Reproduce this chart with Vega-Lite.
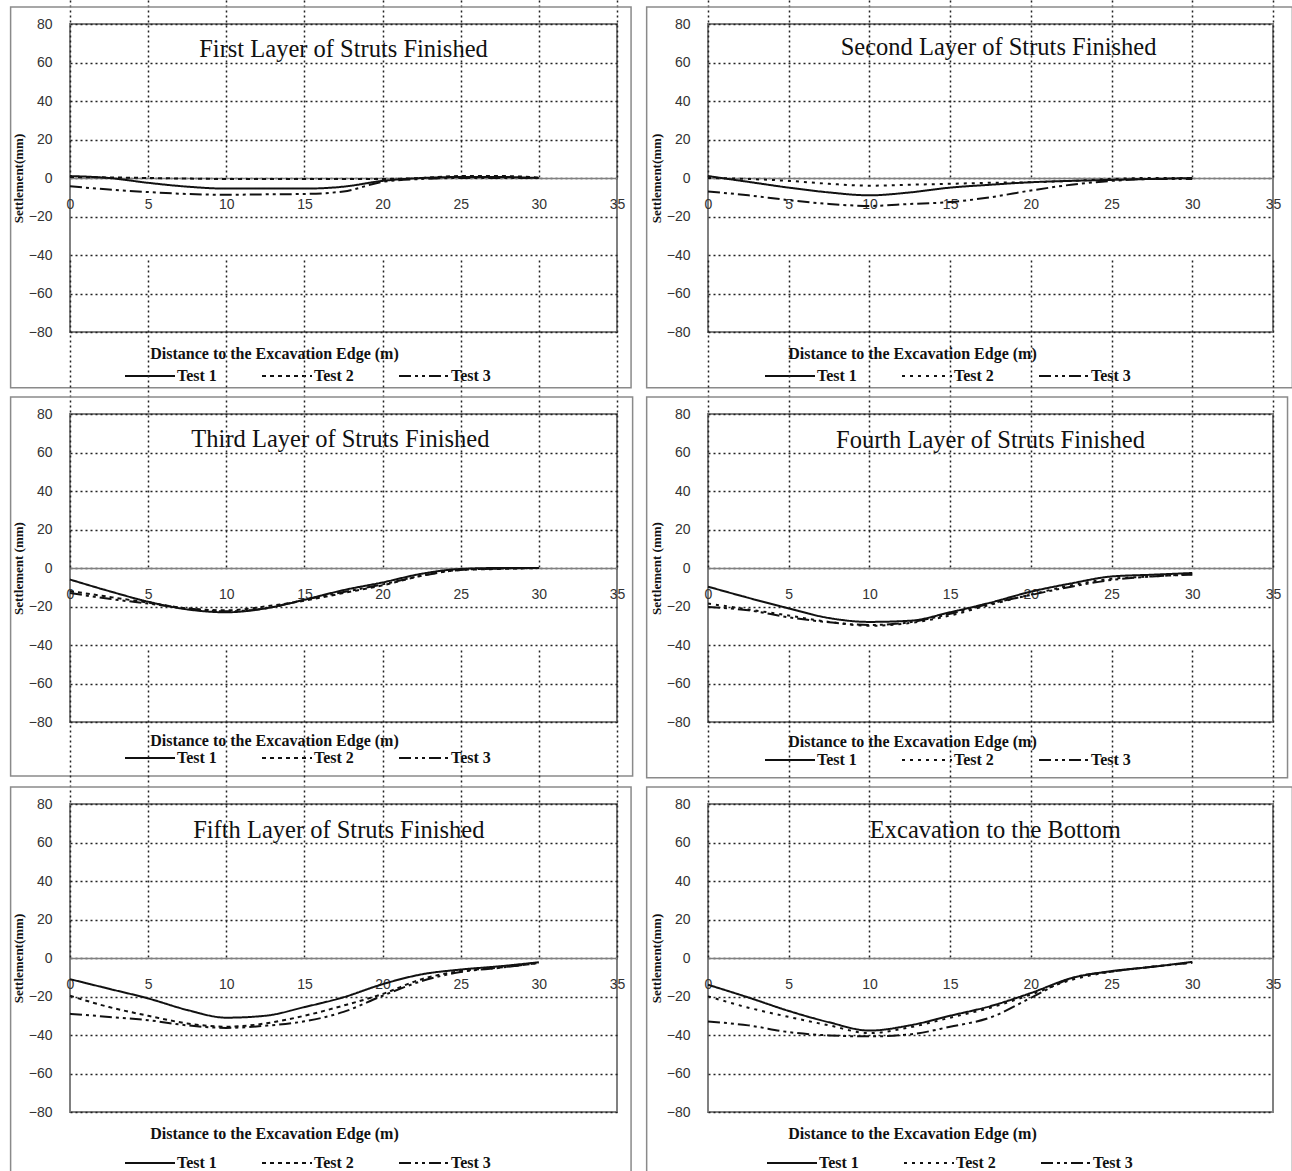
{
  "$schema": "https://vega.github.io/schema/vega-lite/v6.json",
  "padding": {"left": 8, "top": 5, "right": 0, "bottom": 0},
  "background": "white",
  "datasets": {
    "p1": [
      {"x": 0, "Test 1": 1, "Test 2": 0.5, "Test 3": -4.3},
      {"x": 2.5, "Test 1": 0, "Test 2": 0.3, "Test 3": -6},
      {"x": 5, "Test 1": -2.5, "Test 2": 0, "Test 3": -7.3},
      {"x": 7.5, "Test 1": -4.5, "Test 2": -0.3, "Test 3": -8.3},
      {"x": 10, "Test 1": -5.5, "Test 2": -0.5, "Test 3": -8.7},
      {"x": 12.5, "Test 1": -5.5, "Test 2": -0.5, "Test 3": -8.5},
      {"x": 15, "Test 1": -5.5, "Test 2": -0.5, "Test 3": -8.3},
      {"x": 17.5, "Test 1": -4.5, "Test 2": -0.5, "Test 3": -7},
      {"x": 20, "Test 1": -1.5, "Test 2": -0.5, "Test 3": -2},
      {"x": 22.5, "Test 1": 0, "Test 2": 0, "Test 3": -0.5},
      {"x": 25, "Test 1": 0.5, "Test 2": 1, "Test 3": 0},
      {"x": 27.5, "Test 1": 0.5, "Test 2": 1, "Test 3": 0},
      {"x": 30, "Test 1": 0, "Test 2": 0.3, "Test 3": 0}
    ],
    "p2": [
      {"x": 0, "Test 1": 1, "Test 2": 0, "Test 3": -7},
      {"x": 2.5, "Test 1": -2, "Test 2": -0.5, "Test 3": -9},
      {"x": 5, "Test 1": -5, "Test 2": -1.5, "Test 3": -11.5},
      {"x": 7.5, "Test 1": -7.5, "Test 2": -3, "Test 3": -13.5},
      {"x": 10, "Test 1": -9, "Test 2": -4, "Test 3": -14.5},
      {"x": 12.5, "Test 1": -7.5, "Test 2": -3.5, "Test 3": -13.5},
      {"x": 15, "Test 1": -5, "Test 2": -3, "Test 3": -12.5},
      {"x": 17.5, "Test 1": -3.5, "Test 2": -2.5, "Test 3": -10},
      {"x": 20, "Test 1": -2.2, "Test 2": -2.2, "Test 3": -6.5},
      {"x": 22.5, "Test 1": -1.5, "Test 2": -1.5, "Test 3": -3.5},
      {"x": 25, "Test 1": -1, "Test 2": -0.5, "Test 3": -1.5},
      {"x": 27.5, "Test 1": -0.5, "Test 2": 0, "Test 3": -0.5},
      {"x": 30, "Test 1": 0, "Test 2": 0, "Test 3": -0.5}
    ],
    "p3": [
      {"x": 0, "Test 1": -6, "Test 2": -12, "Test 3": -13},
      {"x": 2.5, "Test 1": -12, "Test 2": -15, "Test 3": -16},
      {"x": 5, "Test 1": -17.5, "Test 2": -18, "Test 3": -18.5},
      {"x": 7.5, "Test 1": -21.5, "Test 2": -21, "Test 3": -21},
      {"x": 10, "Test 1": -23, "Test 2": -22, "Test 3": -22.5},
      {"x": 12.5, "Test 1": -21, "Test 2": -20, "Test 3": -21},
      {"x": 15, "Test 1": -16.5, "Test 2": -17, "Test 3": -16.5},
      {"x": 17.5, "Test 1": -11.5, "Test 2": -13, "Test 3": -12.5},
      {"x": 20, "Test 1": -7.5, "Test 2": -9, "Test 3": -8.5},
      {"x": 22.5, "Test 1": -3, "Test 2": -4, "Test 3": -4},
      {"x": 25, "Test 1": -0.5, "Test 2": -1, "Test 3": -1},
      {"x": 27.5, "Test 1": 0, "Test 2": -0.5, "Test 3": -0.3},
      {"x": 30, "Test 1": 0, "Test 2": 0, "Test 3": 0}
    ],
    "p4": [
      {"x": 0, "Test 1": -9.7, "Test 2": -18.5, "Test 3": -20.3},
      {"x": 2.5, "Test 1": -15.5, "Test 2": -21.5, "Test 3": -22},
      {"x": 5, "Test 1": -21, "Test 2": -24.7, "Test 3": -25.6},
      {"x": 7.5, "Test 1": -26, "Test 2": -28, "Test 3": -28.2},
      {"x": 10, "Test 1": -28, "Test 2": -30, "Test 3": -29.6},
      {"x": 12.5, "Test 1": -27.4, "Test 2": -28.6, "Test 3": -28.2},
      {"x": 15, "Test 1": -23, "Test 2": -24.7, "Test 3": -23.8},
      {"x": 17.5, "Test 1": -18, "Test 2": -19, "Test 3": -18.5},
      {"x": 20, "Test 1": -12.3, "Test 2": -13.8, "Test 3": -14},
      {"x": 22.5, "Test 1": -8, "Test 2": -9, "Test 3": -9.7},
      {"x": 25, "Test 1": -4.4, "Test 2": -5.6, "Test 3": -6.2},
      {"x": 27.5, "Test 1": -3.5, "Test 2": -4.4, "Test 3": -4.4},
      {"x": 30, "Test 1": -2.6, "Test 2": -3.2, "Test 3": -3.5}
    ],
    "p5": [
      {"x": 0, "Test 1": -11, "Test 2": -19.6, "Test 3": -29},
      {"x": 2.5, "Test 1": -16, "Test 2": -25.5, "Test 3": -30.6},
      {"x": 5, "Test 1": -21, "Test 2": -30, "Test 3": -32.3},
      {"x": 7.5, "Test 1": -27, "Test 2": -34, "Test 3": -35},
      {"x": 10, "Test 1": -31, "Test 2": -35.7, "Test 3": -36.3},
      {"x": 12.5, "Test 1": -30, "Test 2": -34, "Test 3": -35.2},
      {"x": 15, "Test 1": -25.5, "Test 2": -30, "Test 3": -32.9},
      {"x": 17.5, "Test 1": -20.4, "Test 2": -24.7, "Test 3": -28},
      {"x": 20, "Test 1": -13.6, "Test 2": -18.7, "Test 3": -19.6},
      {"x": 22.5, "Test 1": -8.5, "Test 2": -11, "Test 3": -12},
      {"x": 25, "Test 1": -6, "Test 2": -6.8, "Test 3": -7.3},
      {"x": 27.5, "Test 1": -4.3, "Test 2": -5, "Test 3": -5.1},
      {"x": 30, "Test 1": -2.2, "Test 2": -2.6, "Test 3": -2.6}
    ],
    "p6": [
      {"x": 0, "Test 1": -13.9, "Test 2": -19.9, "Test 3": -33},
      {"x": 2.5, "Test 1": -20.5, "Test 2": -25.8, "Test 3": -35},
      {"x": 5, "Test 1": -27.5, "Test 2": -30.6, "Test 3": -38.5},
      {"x": 7.5, "Test 1": -33.4, "Test 2": -35, "Test 3": -40.2},
      {"x": 10, "Test 1": -37.7, "Test 2": -39, "Test 3": -40.7},
      {"x": 12.5, "Test 1": -35, "Test 2": -36, "Test 3": -39.7},
      {"x": 15, "Test 1": -30, "Test 2": -31, "Test 3": -35.7},
      {"x": 17.5, "Test 1": -25, "Test 2": -25.8, "Test 3": -30.9},
      {"x": 20, "Test 1": -18.2, "Test 2": -19, "Test 3": -20.7},
      {"x": 22.5, "Test 1": -10.5, "Test 2": -11.4, "Test 3": -10.5},
      {"x": 25, "Test 1": -6.8, "Test 2": -7.1, "Test 3": -7.1},
      {"x": 27.5, "Test 1": -4.6, "Test 2": -4.6, "Test 3": -4.6},
      {"x": 30, "Test 1": -2, "Test 2": -2.4, "Test 3": -2.4}
    ]
  },
  "columns": 2,
  "bounds": "flush",
  "spacing": {"row": 82, "column": 91},
  "resolve": {"scale": {"strokeDash": "independent", "x": "independent", "y": "independent"}, "legend": {"strokeDash": "independent"}},
  "concat": [
    {
      "width": 547, "height": 308,
      "layer": [
        {
          "data": {"name": "p1"},
          "transform": [{"fold": ["Test 1", "Test 2", "Test 3"], "as": ["test", "y"]}],
          "mark": {"type": "line", "color": "#111", "strokeWidth": 2, "interpolate": "monotone"},
          "encoding": {
            "x": {"field": "x", "type": "quantitative", "scale": {"domain": [0, 35], "nice": false}, "title": "Distance to the Excavation Edge (m)", "axis": {"values": [0, 5, 10, 15, 20, 25, 30, 35]}},
            "y": {"field": "y", "type": "quantitative", "scale": {"domain": [-80, 80], "nice": false}, "title": "Settlement(mm)"},
            "strokeDash": {"field": "test", "type": "nominal", "scale": {"domain": ["Test 1", "Test 2", "Test 3"], "range": [[1, 0], [4, 4], [12, 4, 3, 4, 3, 4]]}, "legend": {"orient": "none", "legendX": 54, "legendY": 326}}
          }
        },
        {
          "data": {"values": [{}]},
          "mark": {"type": "rect", "filled": false, "stroke": "#8a8a8a", "strokeWidth": 1.5},
          "encoding": {
            "x": {"datum": -3.8, "type": "quantitative"},
            "x2": {"datum": 35.9},
            "y": {"datum": 88.8, "type": "quantitative"},
            "y2": {"datum": -109}
          }
        },
        {
          "data": {"values": [{}]},
          "mark": {"type": "text", "font": "Liberation Serif", "fontSize": 24.5, "color": "#111"},
          "encoding": {
            "x": {"datum": 17.5, "type": "quantitative"},
            "y": {"datum": 66.5, "type": "quantitative"},
            "text": {"value": "First Layer of Struts Finished"}
          }
        }
      ]
    },
    {
      "width": 565, "height": 308,
      "layer": [
        {
          "data": {"name": "p2"},
          "transform": [{"fold": ["Test 1", "Test 2", "Test 3"], "as": ["test", "y"]}],
          "mark": {"type": "line", "color": "#111", "strokeWidth": 2, "interpolate": "monotone"},
          "encoding": {
            "x": {"field": "x", "type": "quantitative", "scale": {"domain": [0, 35], "nice": false}, "title": "Distance to the Excavation Edge (m)", "axis": {"values": [0, 5, 10, 15, 20, 25, 30, 35]}},
            "y": {"field": "y", "type": "quantitative", "scale": {"domain": [-80, 80], "nice": false}, "title": "Settlement(mm)"},
            "strokeDash": {"field": "test", "type": "nominal", "scale": {"domain": ["Test 1", "Test 2", "Test 3"], "range": [[1, 0], [3, 5], [12, 4, 3, 4, 3, 4]]}, "legend": {"orient": "none", "legendX": 56, "legendY": 326}}
          }
        },
        {
          "data": {"values": [{}]},
          "mark": {"type": "rect", "filled": false, "stroke": "#8a8a8a", "strokeWidth": 1.5},
          "encoding": {
            "x": {"datum": -3.8, "type": "quantitative"},
            "x2": {"datum": 36.2},
            "y": {"datum": 88.8, "type": "quantitative"},
            "y2": {"datum": -109}
          }
        },
        {
          "data": {"values": [{}]},
          "mark": {"type": "text", "font": "Liberation Serif", "fontSize": 24.5, "color": "#111"},
          "encoding": {
            "x": {"datum": 18, "type": "quantitative"},
            "y": {"datum": 67.5, "type": "quantitative"},
            "text": {"value": "Second Layer of Struts Finished"}
          }
        }
      ]
    },
    {
      "width": 547, "height": 308,
      "layer": [
        {
          "data": {"name": "p3"},
          "transform": [{"fold": ["Test 1", "Test 2", "Test 3"], "as": ["test", "y"]}],
          "mark": {"type": "line", "color": "#111", "strokeWidth": 2, "interpolate": "monotone"},
          "encoding": {
            "x": {"field": "x", "type": "quantitative", "scale": {"domain": [0, 35], "nice": false}, "title": "Distance to the Excavation Edge (m)", "axis": {"values": [0, 5, 10, 15, 20, 25, 30, 35], "titleY": 172}},
            "y": {"field": "y", "type": "quantitative", "scale": {"domain": [-80, 80], "nice": false}, "title": "Settlement (mm)"},
            "strokeDash": {"field": "test", "type": "nominal", "scale": {"domain": ["Test 1", "Test 2", "Test 3"], "range": [[1, 0], [4, 4], [12, 4, 3, 4, 3, 4]]}, "legend": {"orient": "none", "legendX": 54, "legendY": 318}}
          }
        },
        {
          "data": {"values": [{}]},
          "mark": {"type": "rect", "filled": false, "stroke": "#8a8a8a", "strokeWidth": 1.5},
          "encoding": {
            "x": {"datum": -3.8, "type": "quantitative"},
            "x2": {"datum": 36},
            "y": {"datum": 88.8, "type": "quantitative"},
            "y2": {"datum": -108}
          }
        },
        {
          "data": {"values": [{}]},
          "mark": {"type": "text", "font": "Liberation Serif", "fontSize": 24.5, "color": "#111"},
          "encoding": {
            "x": {"datum": 17.3, "type": "quantitative"},
            "y": {"datum": 66.5, "type": "quantitative"},
            "text": {"value": "Third Layer of Struts Finished"}
          }
        }
      ]
    },
    {
      "width": 565, "height": 308,
      "layer": [
        {
          "data": {"name": "p4"},
          "transform": [{"fold": ["Test 1", "Test 2", "Test 3"], "as": ["test", "y"]}],
          "mark": {"type": "line", "color": "#111", "strokeWidth": 2, "interpolate": "monotone"},
          "encoding": {
            "x": {"field": "x", "type": "quantitative", "scale": {"domain": [0, 35], "nice": false}, "title": "Distance to the Excavation Edge (m)", "axis": {"values": [0, 5, 10, 15, 20, 25, 30, 35], "titleY": 173}},
            "y": {"field": "y", "type": "quantitative", "scale": {"domain": [-80, 80], "nice": false}, "title": "Settlement (mm)"},
            "strokeDash": {"field": "test", "type": "nominal", "scale": {"domain": ["Test 1", "Test 2", "Test 3"], "range": [[1, 0], [3, 5], [12, 4, 3, 4, 3, 4]]}, "legend": {"orient": "none", "legendX": 56, "legendY": 320}}
          }
        },
        {
          "data": {"values": [{}]},
          "mark": {"type": "rect", "filled": false, "stroke": "#8a8a8a", "strokeWidth": 1.5},
          "encoding": {
            "x": {"datum": -3.8, "type": "quantitative"},
            "x2": {"datum": 35.9},
            "y": {"datum": 88.8, "type": "quantitative"},
            "y2": {"datum": -109}
          }
        },
        {
          "data": {"values": [{}]},
          "mark": {"type": "text", "font": "Liberation Serif", "fontSize": 24.5, "color": "#111"},
          "encoding": {
            "x": {"datum": 17.5, "type": "quantitative"},
            "y": {"datum": 66, "type": "quantitative"},
            "text": {"value": "Fourth Layer of Struts Finished"}
          }
        }
      ]
    },
    {
      "width": 547, "height": 308,
      "layer": [
        {
          "data": {"name": "p5"},
          "transform": [{"fold": ["Test 1", "Test 2", "Test 3"], "as": ["test", "y"]}],
          "mark": {"type": "line", "color": "#111", "strokeWidth": 2, "interpolate": "monotone"},
          "encoding": {
            "x": {"field": "x", "type": "quantitative", "scale": {"domain": [0, 35], "nice": false}, "title": "Distance to the Excavation Edge (m)", "axis": {"values": [0, 5, 10, 15, 20, 25, 30, 35]}},
            "y": {"field": "y", "type": "quantitative", "scale": {"domain": [-80, 80], "nice": false}, "title": "Settlement(mm)"},
            "strokeDash": {"field": "test", "type": "nominal", "scale": {"domain": ["Test 1", "Test 2", "Test 3"], "range": [[1, 0], [4, 4], [12, 4, 3, 4, 3, 4]]}, "legend": {"orient": "none", "legendX": 54, "legendY": 333}}
          }
        },
        {
          "data": {"values": [{}]},
          "mark": {"type": "rect", "filled": false, "stroke": "#8a8a8a", "strokeWidth": 1.5},
          "encoding": {
            "x": {"datum": -3.8, "type": "quantitative"},
            "x2": {"datum": 35.9},
            "y": {"datum": 88.8, "type": "quantitative"},
            "y2": {"datum": -112}
          }
        },
        {
          "data": {"values": [{}]},
          "mark": {"type": "text", "font": "Liberation Serif", "fontSize": 24.5, "color": "#111"},
          "encoding": {
            "x": {"datum": 17.2, "type": "quantitative"},
            "y": {"datum": 66, "type": "quantitative"},
            "text": {"value": "Fifth Layer of Struts Finished"}
          }
        }
      ]
    },
    {
      "width": 565, "height": 308,
      "layer": [
        {
          "data": {"name": "p6"},
          "transform": [{"fold": ["Test 1", "Test 2", "Test 3"], "as": ["test", "y"]}],
          "mark": {"type": "line", "color": "#111", "strokeWidth": 2, "interpolate": "monotone"},
          "encoding": {
            "x": {"field": "x", "type": "quantitative", "scale": {"domain": [0, 35], "nice": false}, "title": "Distance to the Excavation Edge (m)", "axis": {"values": [0, 5, 10, 15, 20, 25, 30, 35]}},
            "y": {"field": "y", "type": "quantitative", "scale": {"domain": [-80, 80], "nice": false}, "title": "Settlement(mm)"},
            "strokeDash": {"field": "test", "type": "nominal", "scale": {"domain": ["Test 1", "Test 2", "Test 3"], "range": [[1, 0], [3, 5], [12, 4, 3, 4, 3, 4]]}, "legend": {"orient": "none", "legendX": 58, "legendY": 333}}
          }
        },
        {
          "data": {"values": [{}]},
          "mark": {"type": "rect", "filled": false, "stroke": "#8a8a8a", "strokeWidth": 1.5},
          "encoding": {
            "x": {"datum": -3.8, "type": "quantitative"},
            "x2": {"datum": 36.2},
            "y": {"datum": 88.8, "type": "quantitative"},
            "y2": {"datum": -112}
          }
        },
        {
          "data": {"values": [{}]},
          "mark": {"type": "text", "font": "Liberation Serif", "fontSize": 24.5, "color": "#111"},
          "encoding": {
            "x": {"datum": 17.8, "type": "quantitative"},
            "y": {"datum": 66, "type": "quantitative"},
            "text": {"value": "Excavation to the Bottom"}
          }
        }
      ]
    }
  ],
  "config": {
    "view": {"stroke": "#808080", "strokeWidth": 2},
    "axisX": {
      "offset": -154,
      "ticks": false,
      "tickSize": 0,
      "labelPadding": 19,
      "labelFlush": false,
      "labelOverlap": false,
      "labelBound": false,
      "labelFont": "Liberation Sans Narrow, Liberation Sans, sans-serif",
      "labelFontSize": 14,
      "labelColor": "#333",
      "domainColor": "#808080",
      "domainWidth": 1.5,
      "grid": true,
      "gridColor": "#222",
      "gridDash": [2, 3],
      "gridWidth": 1.5,
      "titleFont": "Liberation Serif",
      "titleFontWeight": "bold",
      "titleFontSize": 16,
      "titleColor": "#111",
      "titleX": 204,
      "titleY": 175,
      "titleAlign": "center",
      "titleBaseline": "middle"
    },
    "axisY": {
      "ticks": false,
      "tickSize": 0,
      "domain": false,
      "tickCount": 8,
      "labelPadding": 18,
      "labelOverlap": false,
      "labelFont": "Liberation Sans Narrow, Liberation Sans, sans-serif",
      "labelFontSize": 14,
      "labelColor": "#333",
      "labelBound": false,
      "labelFlush": false,
      "grid": true,
      "gridColor": "#222",
      "gridDash": [2, 3],
      "gridWidth": 1.5,
      "titleFont": "Liberation Serif",
      "titleFontWeight": "bold",
      "titleFontSize": 13,
      "titleColor": "#111",
      "titlePadding": 3
    },
    "legend": {
      "direction": "horizontal",
      "title": null,
      "symbolType": "stroke",
      "symbolSize": 2500,
      "symbolStrokeWidth": 2,
      "symbolStrokeColor": "#111",
      "labelFont": "Liberation Serif",
      "labelFontWeight": "bold",
      "labelFontSize": 16,
      "labelColor": "#111",
      "labelOffset": 1,
      "columnPadding": 41
    }
  }
}
